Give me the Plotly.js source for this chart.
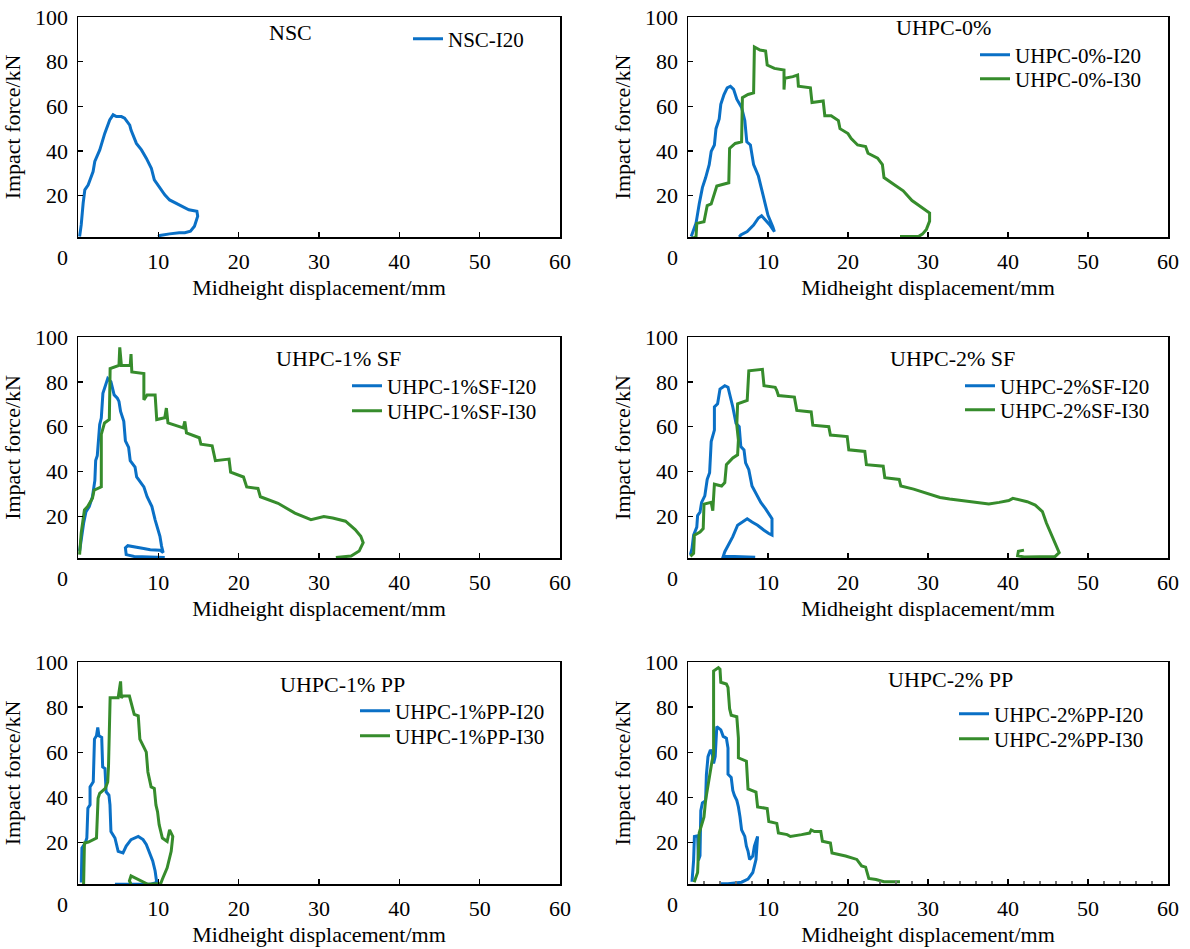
<!DOCTYPE html>
<html>
<head>
<meta charset="utf-8">
<script src="https://cdn.plot.ly/plotly-3.0.1.min.js"></script>
<style>
html,body{margin:0;padding:0;background:#fff;}
#chart{width:1190px;height:949px;}
</style>
</head>
<body>
<div id="chart"></div>
<script>
// ---------------- DATA ----------------
const panelTitles = ['NSC', 'UHPC-0%', 'UHPC-1% SF', 'UHPC-2% SF', 'UHPC-1% PP', 'UHPC-2% PP'];
const xTickVals = [10, 20, 30, 40, 50, 60];
const yTickVals = [20, 40, 60, 80, 100];
const xTitle = 'Midheight displacement/mm';
const yTitle = 'Impact force/kN';

// NSC
const nscI20_x = [0.2,0.4,0.64,0.85,1.26,1.68,1.88,2.09,2.71,3.33,3.95,4.37,4.78,5.4,5.8,6.44,6.6,7.27,7.9,8.5,9.13,9.5,10.2,10.8,11.4,12.2,13.3,13.8,14.8,14.9,14.5,14.0,13.3,12.6,11.4,10.2,10.0];
const nscI20_y = [1.7,6.9,16.6,22.6,24.8,29.3,30.8,35.3,40.5,47.9,53.9,56.2,55.4,55.4,54.7,51.6,49.4,43.4,40.5,36.8,32.3,27.1,23.4,20.4,18.1,16.6,14.4,13.7,13.0,10.8,6.3,4.1,3.4,3.4,2.9,2.2,1.6];

// UHPC-0%
const u0I20_x = [0.4,1.0,1.4,1.8,2.2,2.65,2.9,3.3,3.5,3.9,4.1,4.5,4.9,5.3,5.7,6.1,6.7,7.1,7.35,7.8,8.2,8.8,9.2,9.6,10.0,10.6,10.8,10.2,9.6,9.2,8.8,8.2,7.4,6.6,6.4];
const u0I20_y = [1.7,7.6,16.3,23.6,28,33.9,39.8,42.7,50,54.4,60.9,65.3,68.3,69,67.6,63.2,59.5,53.7,44.1,42.7,33.9,28.8,22.9,16.3,11.2,6.1,3.9,7,9.3,11,10,6.8,3.9,2.4,1.5];
const u0I30_x = [0.4,1.0,1.1,2.0,2.4,2.9,3.6,5.1,5.2,5.9,6.7,6.8,7.5,8.2,8.3,9.0,9.7,9.9,10.8,12.0,12.0,12.1,13.1,13.7,13.8,15.3,15.5,16.9,17.1,17.9,18.8,19.0,20.0,20.4,21.2,22.2,22.5,23.7,24.3,24.5,25.7,26.9,28.0,29.3,30.2,30.2,29.8,29.3,28.8,26.5];
const u0I30_y = [1,1.4,7.6,8.3,15.6,16.3,24.3,25.8,41.2,43.4,44.1,63.9,65.3,66,86.6,85.2,84.8,78.5,77,76.3,67.5,72.6,73.3,74,69,68.3,61.7,62.4,55.8,55.8,53.6,50,47.8,45.6,42.7,42,39,36.8,33.9,28.1,25.1,22.2,17.8,14.4,12.2,8.6,4.9,2.8,1.7,1.7];

// UHPC-1% SF
const sf1I20_x = [0.2,0.4,0.7,1.0,1.4,1.8,2.1,2.2,2.4,2.7,2.9,3.1,3.3,3.7,4.1,4.3,4.5,4.9,5.1,5.3,5.7,5.9,6.3,6.5,7.1,7.3,8.2,8.6,9.2,9.6,10.0,10.2,10.4,10.6,10.2,9.0,8.0,7.0,6.2,5.9,6.0,7.0,10.8];
const sf1I20_y = [4.6,9.8,17,22.2,24.4,28.8,36.1,44.9,47.1,61,63.9,74.9,77.1,81.5,80,77.1,74.2,72.7,71.3,66.8,62.4,53.7,50.8,44.9,42,37.6,33.2,28.8,24.4,18.5,14.2,11.2,6.8,3.9,5,5.2,5.8,6.5,7,6,3,2.2,1.7];
const sf1I30_x = [0.2,0.4,0.8,1.2,1.8,2.0,2.9,2.9,3.3,3.9,4.0,5.1,5.2,5.4,6.5,6.6,6.7,8.2,8.2,8.6,9.6,9.8,10.8,11.0,11.2,13.1,13.3,13.5,15.1,15.3,16.7,17.1,18.8,19.0,20.6,21.0,22.4,22.7,24.9,27.0,29.0,30.6,31.7,33.3,34.5,35.2,35.5,35.0,34.0,32.1];
const sf1I30_y = [3,12.7,22.9,24.4,28.1,31.7,33.2,56.6,61.7,63.2,85.9,87.3,95.4,87.3,87.3,92.4,84.4,83.7,72,74.2,74.2,63.2,64,68.3,61.7,59.5,62.4,57.3,55.1,52.2,51.5,44.9,45.6,39.8,37.6,33.2,32.5,28.8,25.9,21.5,18.6,20,19.3,17.9,14.2,11.2,8.3,4.6,2.4,1.7];

// UHPC-2% SF
const sf2I20_x = [0.3,0.5,0.7,1.1,1.2,1.5,1.7,2.1,2.4,2.7,2.9,3.3,3.3,3.7,4.0,4.6,5.0,5.2,5.4,5.6,6.0,6.4,6.6,7.0,7.2,7.6,8.0,8.4,9.1,9.7,10.5,10.5,10.1,9.5,8.7,8.0,7.4,6.8,6.2,5.6,5.0,4.6,4.4,5.8,8.4];
const sf2I20_y = [2.9,5.8,11.7,15.3,20.4,21.9,26.3,29.2,36.5,39.5,53.4,58.5,68.8,70.2,76.8,78.3,77.6,74.7,71.7,68.8,61.5,60,51.2,49.7,43.9,40.9,33.6,30.7,26.3,23.4,19,11.7,12.4,13.9,16.1,17.5,19,17.5,16.1,11,7.3,4.3,2.2,2.2,1.8];
const sf2I30_x = [0.3,0.7,0.8,1.5,1.9,2.0,2.9,3.1,3.3,4.2,4.6,4.8,5.6,6.2,6.3,6.1,6.2,7.4,7.6,9.3,9.5,10.9,11.1,11.3,13.3,13.6,15.4,15.6,17.6,17.8,19.9,20.1,22.1,22.3,24.4,24.6,26.4,26.6,28.2,30.3,31.5,32.7,34.4,36.0,37.6,38.9,40.1,40.6,41.7,42.4,43.4,44.3,44.8,45.5,45.9,46.4,45.9,42.0,41.2,41.3,42.0];
const sf2I30_y = [2.2,3.6,11.7,13.1,14.6,25.5,26.3,22.6,34.4,33.6,35.1,43.1,46.1,47.5,54.1,60.7,70.2,71.7,84.9,85.6,78.3,77.6,76.1,73.9,73.2,67.3,66.6,60.7,60,56.3,55.6,49.7,49,43.1,42.4,37.3,36.5,33.6,32.2,30,28.5,27.8,27.1,26.3,25.6,26.3,27.1,28.1,27.3,26.6,25.1,22.2,17.1,11.2,7.6,3.9,2.2,2.0,2.5,4.5,5.0];

// UHPC-1% PP
const pp1I20_x = [0.41,0.49,0.9,1.1,1.23,1.5,1.5,1.9,2.05,2.3,2.46,2.6,2.95,3.07,3.36,3.5,3.85,3.98,4.1,4.6,5.0,5.6,6.0,6.6,7.5,8.1,8.5,8.9,9.3,9.6,9.8,9.1,4.6];
const pp1I20_y = [2.2,17.5,19.7,21.9,35.1,36.6,44.6,46.8,65.8,67.3,71,67.3,66.6,53.4,52.7,42.4,40.9,36.6,24.8,21.9,16,15.3,18.3,21.2,22.6,21.2,19,15.3,11.7,7.3,2.2,1.4,1.4];
const pp1I30_x = [0.7,0.8,1.3,1.9,2.3,2.5,2.7,3.4,3.7,3.8,4.0,5.0,5.3,5.4,5.6,6.4,6.6,7.0,7.5,7.7,8.1,8.5,8.7,9.1,9.5,9.7,9.9,10.1,10.5,11.1,11.4,11.8,11.6,11.1,10.5,10.3,8.7,7.9,7.0,6.6,6.4,6.6];
const pp1I30_y = [1.4,19.7,20.1,21.2,21.9,39.5,41.7,43.9,46.8,54.1,84.1,84.1,91.4,84.1,84.9,84.9,81.9,76.8,76.1,65.8,62.9,60,51.2,44.6,43.9,36.6,33.6,27.8,21.9,20.4,25.5,22.6,16,8.7,3.6,1.7,1.4,2.9,4.3,5.1,2.9,1.4];

// UHPC-2% PP
const pp2I20_x = [0.5,0.7,0.8,1.2,1.3,1.5,1.6,1.8,2.2,2.3,2.5,2.8,3.0,3.2,3.4,3.5,3.6,4.1,4.4,4.8,5.0,5.0,5.4,5.6,5.8,6.1,6.3,6.5,6.7,7.1,7.3,7.5,7.7,8.1,8.3,8.7,8.5,8.1,7.5,6.7,5.0,4.0];
const pp2I20_y = [2.5,12,22.6,22.9,12,14,34,37.5,38.5,50,58,61,60,55,58,70,71.3,69.9,67,66.2,61.8,50.2,48.8,43,40.8,38.6,35.7,31.3,25.5,22.6,18.3,16.1,12.4,13.9,18.3,22.6,12.4,6.6,3.7,2.3,1.6,1.6];
const pp2I30_x = [0.77,1.0,1.2,1.4,1.6,2.0,2.2,2.4,2.6,2.8,3.0,3.2,3.2,3.8,4.0,4.1,4.8,5.0,5.1,5.2,5.4,6.1,6.3,6.3,7.3,7.5,8.5,8.7,9.9,10.1,11.1,11.3,12.4,12.8,14.2,15.2,15.4,15.8,16.6,16.8,17.8,18.0,19.7,21.1,21.7,22.2,22.6,23.5,24.5,26.5];
const pp2I30_y = [2.3,4.5,6.6,24.1,26.3,31.3,38.6,43,48.8,53.2,56,59,96,97.5,96.8,91,90.2,88.7,83.7,79.3,76.4,75.7,66.2,57.5,56,43.7,42.3,35.7,35,29.2,28.4,24.1,23.4,22.6,23.4,24.1,25.5,24.8,24.8,20.5,19.7,15.3,13.9,12.4,9.5,9,4,3.5,2.5,2.5];

// series: [panel index, name, x, y, colour key]
const series = [
  [0, 'NSC-I20', nscI20_x, nscI20_y, 'blue'],
  [1, 'UHPC-0%-I20', u0I20_x, u0I20_y, 'blue'],
  [1, 'UHPC-0%-I30', u0I30_x, u0I30_y, 'green'],
  [2, 'UHPC-1%SF-I20', sf1I20_x, sf1I20_y, 'blue'],
  [2, 'UHPC-1%SF-I30', sf1I30_x, sf1I30_y, 'green'],
  [3, 'UHPC-2%SF-I20', sf2I20_x, sf2I20_y, 'blue'],
  [3, 'UHPC-2%SF-I30', sf2I30_x, sf2I30_y, 'green'],
  [4, 'UHPC-1%PP-I20', pp1I20_x, pp1I20_y, 'blue'],
  [4, 'UHPC-1%PP-I30', pp1I30_x, pp1I30_y, 'green'],
  [5, 'UHPC-2%PP-I20', pp2I20_x, pp2I20_y, 'blue'],
  [5, 'UHPC-2%PP-I30', pp2I30_x, pp2I30_y, 'green']
];

// ---------------- LAYOUT / STYLE ----------------
const W = 1190, H = 949;
const FONT = 'Liberation Serif, Times New Roman, serif';
const COLORS = {blue: '#0a70c6', green: '#368c2c'};
const FS = 22;
const LFS = 21;

// panel frames in pixels
const panels = [
  {l: 78,  r: 560,  t: 17,  b: 237},
  {l: 688, r: 1168, t: 17,  b: 237},
  {l: 78,  r: 560,  t: 337, b: 558},
  {l: 688, r: 1168, t: 337, b: 558},
  {l: 78,  r: 560,  t: 662, b: 884},
  {l: 688, r: 1168, t: 662, b: 884}
];
// panel title centres (px)
const titlePos = [[290, 32], [943, 28], [338, 358], [952, 358], [343, 684], [950, 679]];
// legend entry positions: line start x, centre y (px) per series
const legendPos = [
  [413, 39],
  [980, 55], [980, 79],
  [352, 386], [352, 411],
  [965, 386], [965, 410],
  [360, 711], [360, 736],
  [959, 714], [959, 739]
];

const layout = {
  width: W, height: H,
  margin: {l: 0, r: 0, t: 0, b: 0},
  paper_bgcolor: '#fff', plot_bgcolor: '#fff',
  font: {family: FONT, size: FS, color: '#000'},
  annotations: [],
  showlegend: true
};

panels.forEach((p, i) => {
  const k = i === 0 ? '' : String(i + 1);
  const xa = {
    domain: [p.l / W, p.r / W],
    range: [0, 60],
    tickvals: xTickVals,
    ticks: 'inside', ticklen: 5, tickwidth: 1.3, tickcolor: '#000',
    ticklabelstandoff: 4,
    showline: true, linecolor: '#000', linewidth: 1.5, mirror: true,
    showgrid: false, zeroline: false,
    tickfont: {family: FONT, size: FS, color: '#000'},
    title: {text: xTitle, font: {family: FONT, size: FS, color: '#000'}, standoff: 6},
    anchor: 'y' + k, fixedrange: true
  };
  if (i === 5) {
    xa.minor = {ticks: 'inside', ticklen: 3, dtick: 2, tickcolor: '#777', showgrid: false};
  }
  const ya = {
    domain: [1 - p.b / H, 1 - p.t / H],
    range: [1.5, 100],
    tickvals: yTickVals,
    ticks: 'inside', ticklen: 5, tickwidth: 1.3, tickcolor: '#000',
    ticklabelstandoff: 4,
    showline: true, linecolor: '#000', linewidth: 1.5, mirror: true,
    showgrid: false, zeroline: false,
    tickfont: {family: FONT, size: FS, color: '#000'},
    title: {text: yTitle, font: {family: FONT, size: FS, color: '#000'}, standoff: 8},
    anchor: 'x' + k, fixedrange: true
  };
  layout['xaxis' + k] = xa;
  layout['yaxis' + k] = ya;
  layout.annotations.push({
    text: panelTitles[i], xref: 'paper', yref: 'paper',
    x: titlePos[i][0] / W, y: 1 - titlePos[i][1] / H,
    xanchor: 'center', yanchor: 'middle', showarrow: false,
    font: {family: FONT, size: FS, color: '#000'}
  });
  // "0" tick label that sits left of the frame corner
  layout.annotations.push({
    text: '0', xref: 'paper', yref: 'paper',
    x: (p.l - 16) / W, y: 1 - (p.b + 20) / H,
    xanchor: 'center', yanchor: 'middle', showarrow: false,
    font: {family: FONT, size: FS, color: '#000'}
  });
});

const traces = series.map((s, j) => {
  const [pi, name, xs, ys, ck] = s;
  const k = pi === 0 ? '' : String(pi + 1);
  const lg = j === 0 ? 'legend' : 'legend' + (j + 1);
  layout[lg] = {
    x: (legendPos[j][0] - 5) / W, y: 1 - legendPos[j][1] / H,
    xanchor: 'left', yanchor: 'middle',
    bgcolor: 'rgba(0,0,0,0)', borderwidth: 0,
    font: {family: FONT, size: LFS, color: '#000'},
    itemwidth: 30
  };
  return {
    type: 'scatter', mode: 'lines', name: name,
    x: xs, y: ys,
    xaxis: 'x' + k, yaxis: 'y' + k,
    line: {color: COLORS[ck], width: 3},
    legend: lg, showlegend: true
  };
});

Plotly.newPlot('chart', traces, layout, {displayModeBar: false, staticPlot: true});
</script>
</body>
</html>
